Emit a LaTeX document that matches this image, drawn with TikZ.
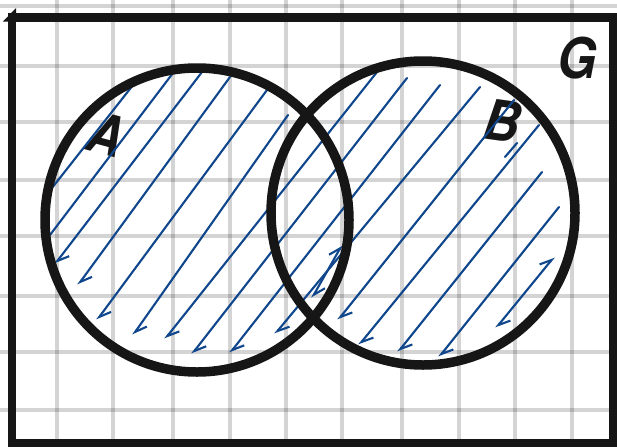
\documentclass[tikz,border=0pt]{standalone}
\usepackage{fontspec}
\newfontfamily\handfont{TeX Gyre Heros}
\usetikzlibrary{arrows.meta}
\definecolor{hatchblue}{RGB}{16,70,140}
\definecolor{ink}{RGB}{22,22,22}

\begin{document}
\begin{tikzpicture}[x=1pt,y=-1pt,
  gridline/.style={line width=4.3pt,black,opacity=0.17},
  hatch/.style={line width=2.1pt,hatchblue,line cap=round},
  barb/.style={-{Straight Barb[left,length=11pt,width=13pt]}},
  barbs/.style={{Straight Barb[left,length=11pt,width=13pt]}-{Straight Barb[left,length=11pt,width=13pt]}},
  ring/.style={line width=9.5pt,ink},
  frame/.style={line width=8.5pt,ink},
  letter/.style={font=\handfont\bfseries\itshape\fontsize{56}{56}\selectfont,text=ink,inner sep=0pt}]
  \useasboundingbox (0,0) rectangle (617,447);
  % paper grid
  \foreach \x in {57,113,173,230,286,342,402,459,515,572}
    \draw[gridline] (\x,0) -- (\x,447);
  \foreach \y in {6,66,122,180,236,296,352,410}
    \draw[gridline] (0,\y) -- (617,\y);
  % set names
  \node[letter,rotate=-15,xscale=0.85] (labelA) at (106,134) {A};
  \node[letter,rotate=-8,xscale=0.9] (labelB) at (502,121) {B};
  \node[letter,xscale=0.9] (labelG) at (577,58) {G};
  % hatching of A and B
  \foreach \xa/\ya/\xb/\yb in {137/80/48/193, 173/73/50/235, 505/157/517/143}
    \draw[hatch] (\xa,\ya) -- (\xb,\yb);
  \foreach \xa/\ya/\xb/\yb in {202/72/55/264, 230/77/78/285, 267/90/97/320,
      288/115/133/335, 377/72/165/339, 407/78/192/354, 440/85/230/353,
      480/87/275/334, 514/100/338/320, 539/125/359/345, 542/172/398/352,
      559/207/439/357}
    \draw[hatch,barb] (\xa,\ya) -- (\xb,\yb);
  \foreach \xa/\ya/\xb/\yb in {342/245/312/298, 554/257/496/328}
    \draw[hatch,barbs] (\xa,\ya) -- (\xb,\yb);
  % the two sets
  \draw[ring] (197,220) circle[radius=152];
  \draw[ring] (423,213) circle[radius=152];
  % universe G
  \draw[frame] (12,443) rectangle (613,17.5);
  \fill[ink] (3,21.5) -- (16,8) -- (16,21.5) -- cycle;
\end{tikzpicture}
\end{document}
